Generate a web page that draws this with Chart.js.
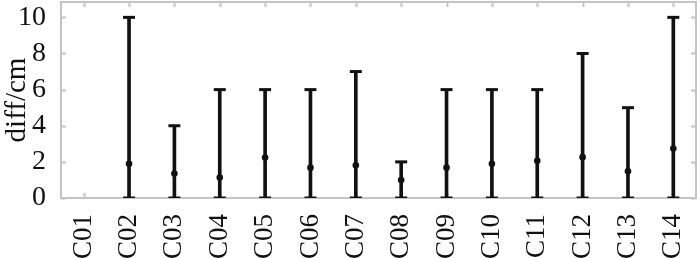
<!DOCTYPE html>
<html>
<head>
<meta charset="utf-8">
<script src="https://cdn.jsdelivr.net/npm/chart.js@4/dist/chart.umd.min.js"></script>
<style>
  html, body { margin: 0; padding: 0; background: #fff; }
  #wrap { width: 700px; height: 258px; }
</style>
</head>
<body>
<div id="wrap"><canvas id="chart-diff"></canvas></div>
<script>
const categories = ['C01', 'C02', 'C03', 'C04', 'C05', 'C06', 'C07', 'C08', 'C09', 'C10', 'C11', 'C12', 'C13', 'C14'];
const lows  = [null, 0, 0, 0, 0, 0, 0, 0, 0, 0, 0, 0, 0, 0];
const highs = [null, 10, 4, 6, 6, 6, 7, 2, 6, 6, 6, 8, 5, 10];
const means = [null, 1.89, 1.35, 1.13, 2.24, 1.68, 1.81, 1.0, 1.68, 1.89, 2.06, 2.26, 1.48, 2.74];
const yTicks = [0, 2, 4, 6, 8, 10];

const FONT = "'Liberation Serif', 'Times New Roman', Times, serif";
const GREY = '#c4c4c4';

// frame + inward tick marks, drawn under the error bars
const framePlugin = {
    id: 'frame',
    beforeDatasetsDraw(chart) {
        const ctx = chart.ctx;
        const a = chart.chartArea;
        const x = chart.scales.x, y = chart.scales.y;
        ctx.save();
        ctx.strokeStyle = GREY;
        ctx.lineWidth = 2;
        ctx.strokeRect(a.left, a.top, a.right - a.left, a.bottom - a.top);
        ctx.beginPath();
        for (let i = 0; i < x.ticks.length; i++) {
            const px = Math.round(x.getPixelForTick(i)) + 0.5;
            ctx.moveTo(px, a.top); ctx.lineTo(px, a.top + 5);
            ctx.moveTo(px, a.bottom); ctx.lineTo(px, a.bottom - 5);
        }
        y.ticks.forEach(t => {
            const py = Math.round(y.getPixelForValue(t.value)) + 0.5;
            ctx.moveTo(a.left, py); ctx.lineTo(a.left + 5, py);
            ctx.moveTo(a.right, py); ctx.lineTo(a.right - 5, py);
        });
        ctx.stroke();
        ctx.restore();
    }
};

var ctx = document.getElementById('chart-diff');
var myChart = new Chart(ctx, {
    type: 'bar',
    data: {
        labels: categories,
        datasets: [
            {
                type: 'bar',
                data: highs.map((h, i) => h == null ? null : [lows[i], h]),
                backgroundColor: '#111',
                barThickness: 3,
                borderWidth: 0,
                order: 3
            },
            {
                type: 'line',
                data: highs,
                showLine: false,
                pointStyle: 'line',
                pointRadius: 6,
                borderWidth: 3,
                borderColor: '#111',
                order: 2
            },
            {
                type: 'line',
                data: lows,
                showLine: false,
                pointStyle: 'line',
                pointRadius: 6,
                borderWidth: 3,
                borderColor: '#111',
                order: 2
            },
            {
                type: 'line',
                data: means,
                showLine: false,
                pointStyle: 'circle',
                pointRadius: 3.3,
                borderWidth: 0,
                backgroundColor: '#111',
                borderColor: '#111',
                order: 1
            }
        ]
    },
    options: {
        responsive: true,
        maintainAspectRatio: false,
        animation: false,
        layout: { autoPadding: false, padding: { top: 2, right: 4, left: 0, bottom: 0 } },
        plugins: {
            legend: { display: false },
            tooltip: { enabled: false }
        },
        scales: {
            x: {
                offset: true,
                grid: { display: false },
                border: { display: false },
                ticks: {
                    color: '#111',
                    font: { family: FONT, size: 27 },
                    minRotation: 90,
                    maxRotation: 90,
                    padding: 8
                },
                afterFit(scale) {
                    scale.height = 60;
                    scale.paddingLeft = 0;
                    scale.paddingRight = 0;
                }
            },
            y: {
                min: 0,
                max: 10.85,
                grid: { display: false },
                border: { display: false },
                afterBuildTicks(scale) {
                    scale.ticks = yTicks.map(v => ({ value: v }));
                },
                ticks: {
                    color: '#111',
                    font: { family: FONT, size: 28 },
                    padding: 7
                },
                title: {
                    display: true,
                    text: 'diff/cm',
                    color: '#111',
                    font: { family: FONT, size: 29 },
                    padding: 0
                },
                afterFit(scale) {
                    scale.width = 61;
                    scale.paddingTop = 0;
                    scale.paddingBottom = 0;
                }
            }
        }
    },
    plugins: [framePlugin]
});
</script>
</body>
</html>
